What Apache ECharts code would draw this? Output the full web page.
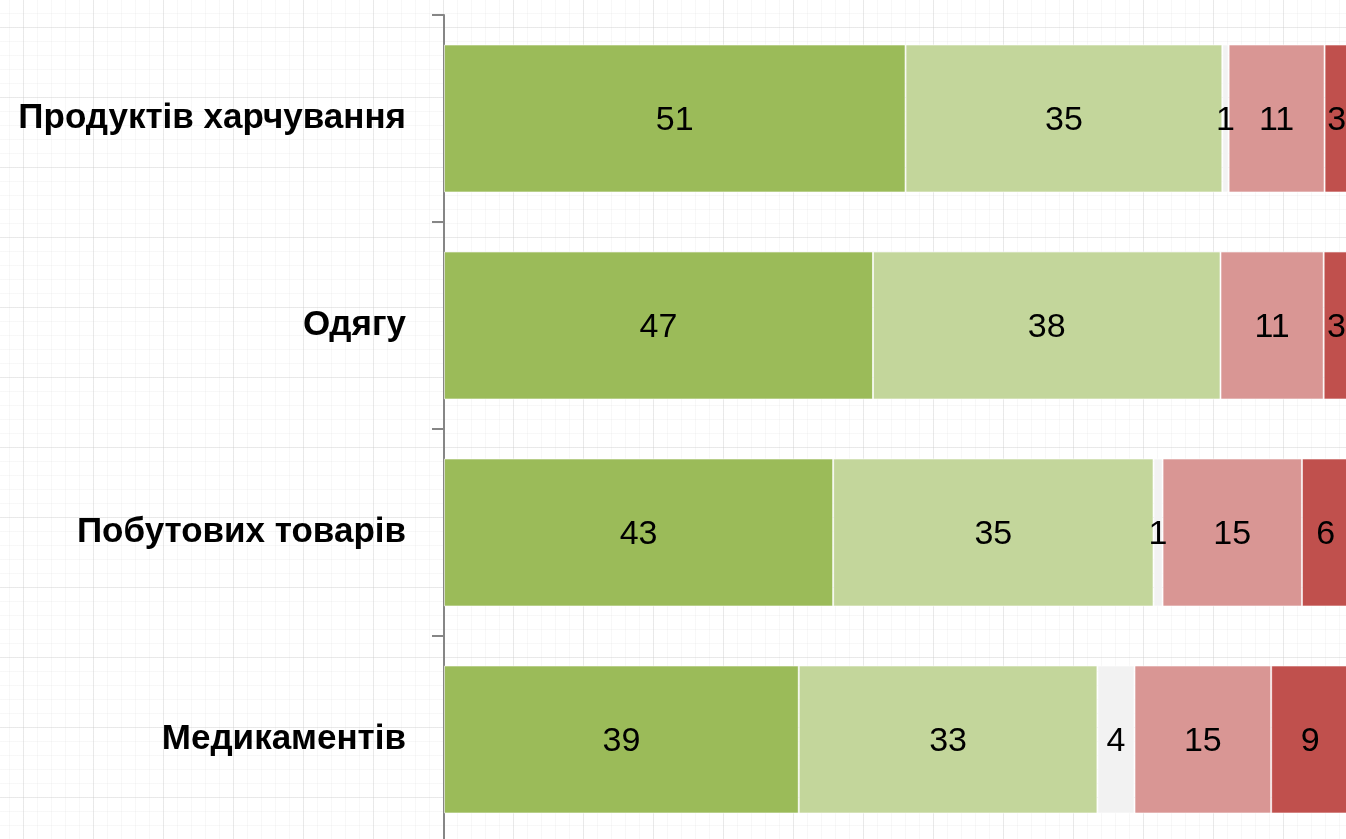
<!DOCTYPE html>
<html>
<head>
<meta charset="utf-8">
<script src="https://cdn.jsdelivr.net/npm/echarts@6/dist/echarts.min.js"></script>
<style>
html,body{margin:0;padding:0;width:1346px;height:839px;overflow:hidden;
background-color:#fff;
background-image:
 linear-gradient(to right, rgba(200,200,200,0.3) 1px, transparent 1px),
 linear-gradient(to bottom, rgba(200,200,200,0.3) 1px, transparent 1px),
 linear-gradient(to right, rgba(225,225,225,0.25) 1px, transparent 1px),
 linear-gradient(to bottom, rgba(225,225,225,0.25) 1px, transparent 1px);
background-size:70px 70px,70px 70px,14px 14px,14px 14px;
background-position:23px 27px,23px 27px,23px 27px,23px 27px;}
#chart{width:1346px;height:839px;}
</style>
</head>
<body>
<div id="chart"></div>
<script>
const categories = ['Продуктів харчування', 'Одягу', 'Побутових товарів', 'Медикаментів'];
const seriesNames = ['s1', 's2', 's3', 's4', 's5'];
// values; labels show them rounded
const s1 = [51.0, 47.4, 43.0, 39.2];
const s2 = [35.0, 38.4, 35.4, 33.0];
const s3 = [0.7, 0, 1.0, 4.1];
const s4 = [10.6, 11.4, 15.4, 15.1];
const s5 = [2.7, 2.8, 5.5, 8.6];
const colors = ['#9BBB59', '#C3D69B', '#F2F2F2', '#D99694', '#C0504D'];

const chart = echarts.init(document.getElementById('chart'), null, {renderer: 'canvas'});
const font = '"Liberation Sans Narrow", "Arial Narrow", "Liberation Sans", Arial, sans-serif';
const data = [s1, s2, s3, s4, s5];
chart.setOption({
  animation: false,
  backgroundColor: 'transparent',
  grid: {left: 444, top: 15, width: 905, height: 828, containLabel: false, outerBoundsMode: 'none'},
  xAxis: {type: 'value', min: 0, max: 100, show: false},
  yAxis: {
    type: 'category', data: categories, inverse: true,
    axisLine: {show: true, lineStyle: {color: '#868686', width: 2}},
    axisTick: {show: true, length: 12, lineStyle: {color: '#868686', width: 2}},
    axisLabel: {margin: 38, color: '#000', fontFamily: font, fontWeight: 'bold', fontSize: 35}
  },
  series: data.map((d, i) => ({
    name: seriesNames[i], type: 'bar', stack: 'total',
    data: d, barCategoryGap: '28.5%',
    itemStyle: {color: colors[i], borderColor: 'rgba(255,255,255,0.6)', borderWidth: 1},
    label: {show: true, position: 'inside', color: '#000', fontFamily: font, fontSize: 34, offset: [0, 2],
      formatter: p => p.value ? String(Math.round(p.value)) : ''}
  }))
});
</script>
</body>
</html>
